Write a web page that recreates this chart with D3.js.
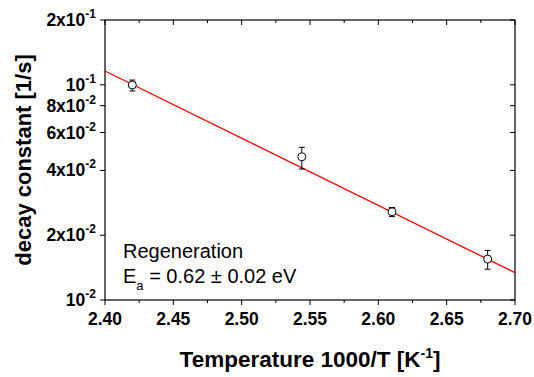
<!DOCTYPE html>
<html lang="en">
<head>
  <meta charset="UTF-8">
  <title>Decay constant</title>
  <script src="https://d3js.org/d3.v7.min.js"></script>
  <style>
    body { margin: 0; background: #fff; }
    svg { width: 534px; height: 377px; font-family: "Liberation Sans", Arial, sans-serif; }
    .lbl { font-weight: bold; }
  </style>
</head>
<body>
  <svg></svg>
  <script>
    const invT = [2.420, 2.544, 2.610, 2.680];
    const decay = [0.0998, 0.0463, 0.0257, 0.0155];
    const errLow = [0.0936, 0.0406, 0.0244, 0.0139];
    const errHigh = [0.1052, 0.0512, 0.0269, 0.0170];
    const fitX = [2.40, 2.70];
    const fitY = [0.1159, 0.0134];
    const yTicks = [
      {v: 0.2, m: `2x10`, e: `-1`},
      {v: 0.1, m: `10`, e: `-1`},
      {v: 0.08, m: `8x10`, e: `-2`},
      {v: 0.06, m: `6x10`, e: `-2`},
      {v: 0.04, m: `4x10`, e: `-2`},
      {v: 0.02, m: `2x10`, e: `-2`},
      {v: 0.01, m: `10`, e: `-2`},
    ];
    const xTicks = [2.40, 2.45, 2.50, 2.55, 2.60, 2.65, 2.70];
    const xMinor = [2.425, 2.475, 2.525, 2.575, 2.625, 2.675];

    const margin = {top: 20, right: 19, bottom: 77, left: 105};
    const width = 534, height = 377;

    const x = d3.scaleLinear().domain([2.40, 2.70]).range([margin.left, width - margin.right]);
    const y = d3.scaleLog().domain([0.01, 0.2]).range([height - margin.bottom, margin.top]);

    const svg = d3.select(`svg`);
    const x0 = margin.left, x1 = width - margin.right;
    const y0 = height - margin.bottom, y1 = margin.top;

    // frame
    svg.append(`rect`)
      .attr(`x`, x0).attr(`y`, y1)
      .attr(`width`, x1 - x0).attr(`height`, y0 - y1)
      .attr(`fill`, `none`).attr(`stroke`, `#000`).attr(`stroke-width`, 1.2);

    // ticks: bottom/left outward, top/right inward
    const tick = (x1_, y1_, x2_, y2_) => svg.append(`line`)
      .attr(`x1`, x1_).attr(`y1`, y1_).attr(`x2`, x2_).attr(`y2`, y2_)
      .attr(`stroke`, `#000`).attr(`stroke-width`, 1);

    xTicks.forEach(t => { tick(x(t), y0, x(t), y0 + 5); tick(x(t), y1, x(t), y1 + 5); });
    xMinor.forEach(t => { tick(x(t), y0, x(t), y0 + 3); tick(x(t), y1, x(t), y1 + 3); });
    yTicks.forEach(t => { tick(x0 - 5, y(t.v), x0, y(t.v)); tick(x1 - 5, y(t.v), x1, y(t.v)); });

    svg.selectAll(`.xl`).data(xTicks).enter().append(`text`)
      .attr(`class`, `lbl`)
      .attr(`x`, d => x(d)).attr(`y`, y0 + 25)
      .attr(`text-anchor`, `middle`)
      .style(`font-size`, `17.5px`)
      .text(d => d.toFixed(2));

    const yl = svg.selectAll(`.yl`).data(yTicks).enter().append(`text`)
      .attr(`class`, `lbl`)
      .attr(`x`, x0 - 9).attr(`y`, d => y(d.v) + 6)
      .attr(`text-anchor`, `end`)
      .style(`font-size`, `17.5px`);
    yl.append(`tspan`).text(d => d.m);
    yl.append(`tspan`).attr(`dy`, -8).style(`font-size`, `12px`).text(d => d.e);

    // axis titles
    const xt = svg.append(`text`)
      .attr(`class`, `lbl`)
      .attr(`x`, (x0 + x1) / 2).attr(`y`, 367)
      .attr(`text-anchor`, `middle`)
      .style(`font-size`, `22.5px`);
    xt.append(`tspan`).text(`Temperature 1000/T [K`);
    xt.append(`tspan`).attr(`dy`, -9).style(`font-size`, `14px`).text(`-1`);
    xt.append(`tspan`).attr(`dy`, 9).text(`]`);

    svg.append(`text`)
      .attr(`class`, `lbl`)
      .attr(`transform`, `translate(31, ${(y0 + y1) / 2}) rotate(-90)`)
      .attr(`text-anchor`, `middle`)
      .style(`font-size`, `22px`)
      .text(`decay constant [1/s]`);

    // fit line
    const line = d3.line().x(d => x(d[0])).y(d => y(d[1]));
    svg.append(`path`)
      .attr(`d`, line(d3.zip(fitX, fitY)))
      .attr(`fill`, `none`).attr(`stroke`, `#ff0000`).attr(`stroke-width`, 1.3);

    // error bars and points
    const pts = d3.range(invT.length);
    const g = svg.append(`g`).attr(`stroke`, `#000`).attr(`stroke-width`, 1);
    pts.forEach(i => {
      const cx = x(invT[i]);
      g.append(`line`).attr(`x1`, cx).attr(`x2`, cx).attr(`y1`, y(errLow[i])).attr(`y2`, y(errHigh[i]));
      g.append(`line`).attr(`x1`, cx - 3).attr(`x2`, cx + 3).attr(`y1`, y(errLow[i])).attr(`y2`, y(errLow[i]));
      g.append(`line`).attr(`x1`, cx - 3).attr(`x2`, cx + 3).attr(`y1`, y(errHigh[i])).attr(`y2`, y(errHigh[i]));
    });
    g.selectAll(`circle`).data(pts).enter().append(`circle`)
      .attr(`cx`, i => x(invT[i])).attr(`cy`, i => y(decay[i])).attr(`r`, 4)
      .attr(`fill`, `#fff`);

    // annotation
    svg.append(`text`).attr(`x`, 123).attr(`y`, 258)
      .style(`font-size`, `20px`).text(`Regeneration`);
    const ea = svg.append(`text`).attr(`x`, 123).attr(`y`, 283).style(`font-size`, `20px`);
    ea.append(`tspan`).text(`E`);
    ea.append(`tspan`).attr(`dy`, 7).style(`font-size`, `13px`).text(`a`);
    ea.append(`tspan`).attr(`dy`, -7).text(` = 0.62 ± 0.02 eV`);
  </script>
</body>
</html>
